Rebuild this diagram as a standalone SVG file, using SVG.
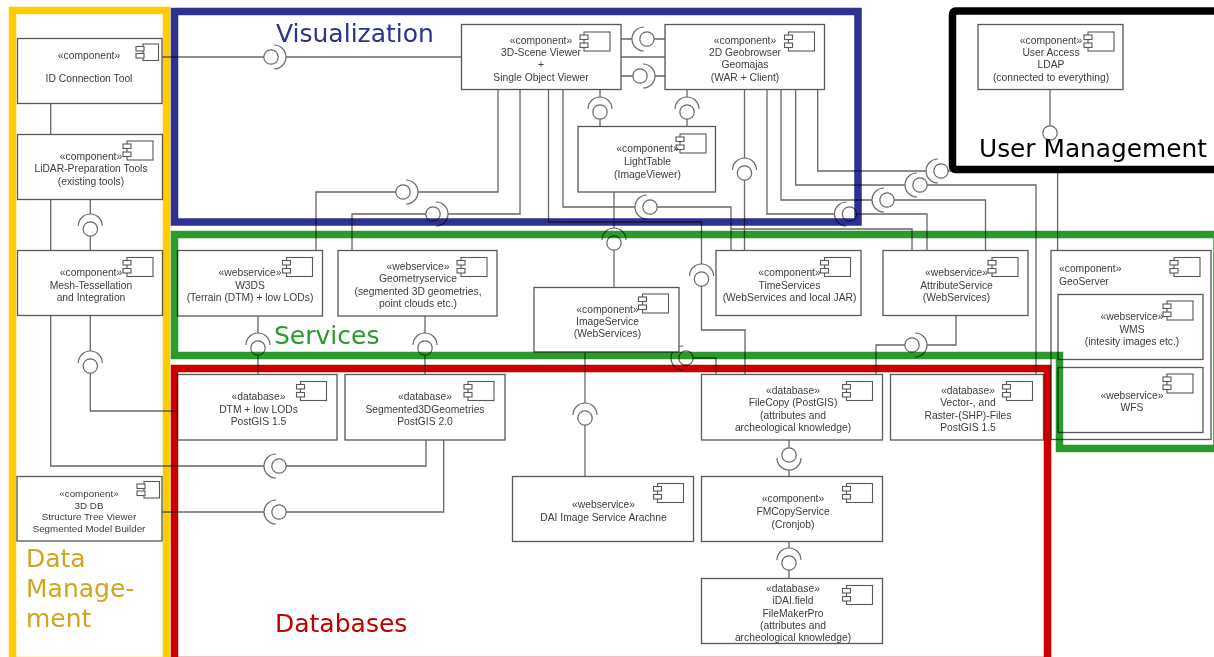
<svg xmlns="http://www.w3.org/2000/svg" width="1214" height="657" viewBox="0 0 1214 657">
<style>
text{font-family:"Liberation Sans",Arial,sans-serif}
.t{font-size:10.3px;fill:#3c3c3c;text-anchor:middle}
.s{font-size:9.8px}
.l{text-anchor:start}
.b{fill:#fff;stroke:#585858;stroke-width:1.3}
.i{fill:#fff;stroke:#585858;stroke-width:1.1}
.c{fill:none;stroke:#686868;stroke-width:1.3}
.f{fill:none;stroke-width:7.5;mix-blend-mode:multiply}
.h{font-family:"DejaVu Sans",Verdana,sans-serif;font-size:25px}
</style>
<defs>
<filter id="soft" x="-2%" y="-2%" width="104%" height="104%"><feGaussianBlur stdDeviation="0.4"/></filter>
<g id="icon"><rect class="i" x="0" y="0" width="26" height="19"/><rect class="i" x="-4" y="3" width="8" height="4.5"/><rect class="i" x="-4" y="11" width="8" height="4.5"/></g>
<g id="icons"><rect class="i" x="0" y="0" width="15.5" height="16.5"/><rect class="i" x="-7" y="2.5" width="8" height="4.5"/><rect class="i" x="-7" y="9.5" width="8" height="4.5"/></g>
<g id="ifc"><path d="M3,-12A12,12 0 0 1 3,12Z" fill="#fff" stroke="none"/><path d="M3,-12A12,12 0 0 1 3,12" fill="none" stroke="#686868" stroke-width="1.2"/><circle r="7.2" fill="#fff" stroke="#686868" stroke-width="1.2"/></g>
</defs>
<rect width="1214" height="657" fill="#fff"/>
<g id="connectors" filter="url(#soft)">
<path class="c" d="M162,57H461"/>
<path class="c" d="M621,39H665M621,57H665M621,76H665"/>
<path class="c" d="M600,89V126M687,89V126"/>
<path class="c" d="M498,89V192H316V250"/>
<path class="c" d="M520,89V214H352V250"/>
<path class="c" d="M548.5,89V222H701.5V330H745V374"/>
<path class="c" d="M563,89V207H731V250"/>
<path class="c" d="M731,229H912V250"/>
<path class="c" d="M614,192V287"/>
<path class="c" d="M744.5,89V250"/>
<path class="c" d="M767,89V214H927V250"/>
<path class="c" d="M781,89V200H985.5V250"/>
<path class="c" d="M795.7,89V185H1036V374"/>
<path class="c" d="M817.7,89V171H1057.6V250"/>
<path class="c" d="M1050,89V133"/>
<path class="c" d="M258,316V374M425,316V374"/>
<path class="c" d="M585,352V476"/>
<path class="c" d="M674,358H716V374"/>
<path class="c" d="M956,315V345H876V374"/>
<path class="c" d="M789,440V476M789,541V578"/>
<path class="c" d="M50.7,103V134M50.7,199V250M90.3,199V250"/>
<path class="c" d="M50.7,315V466H426V440"/>
<path class="c" d="M90.3,315V411H178"/>
<path class="c" d="M162,512H443.7V440"/>
<use href="#ifc" transform="translate(271,57)"/>
<use href="#ifc" transform="translate(647,39) rotate(180)"/>
<use href="#ifc" transform="translate(640,76)"/>
<use href="#ifc" transform="translate(600,112) rotate(-90)"/>
<use href="#ifc" transform="translate(687,112) rotate(-90)"/>
<use href="#ifc" transform="translate(403,192)"/>
<use href="#ifc" transform="translate(433,214)"/>
<use href="#ifc" transform="translate(650,207) rotate(180)"/>
<use href="#ifc" transform="translate(614,243) rotate(-90)"/>
<use href="#ifc" transform="translate(701.5,279) rotate(-90)"/>
<use href="#ifc" transform="translate(744.5,173) rotate(-90)"/>
<use href="#ifc" transform="translate(849.5,214) rotate(180)"/>
<use href="#ifc" transform="translate(887,200) rotate(180)"/>
<use href="#ifc" transform="translate(920,185) rotate(180)"/>
<use href="#ifc" transform="translate(941,171) rotate(180)"/>
<circle cx="1050" cy="133" r="7.2" fill="#fff" stroke="#686868" stroke-width="1.2"/>
<use href="#ifc" transform="translate(258,348) rotate(-90)"/>
<use href="#ifc" transform="translate(425,348) rotate(-90)"/>
<use href="#ifc" transform="translate(585,418) rotate(-90)"/>
<use href="#ifc" transform="translate(686,358) rotate(180)"/>
<use href="#ifc" transform="translate(912,345)"/>
<use href="#ifc" transform="translate(789,455) rotate(90)"/>
<use href="#ifc" transform="translate(789,563) rotate(-90)"/>
<use href="#ifc" transform="translate(90.3,229) rotate(-90)"/>
<use href="#ifc" transform="translate(90.3,366) rotate(-90)"/>
<use href="#ifc" transform="translate(279,466) rotate(180)"/>
<use href="#ifc" transform="translate(279,512) rotate(180)"/>
</g>
<g id="nodes" filter="url(#soft)">
<g id="n-idtool"><rect class="b" x="17.5" y="38.5" width="144.5" height="65"/><use href="#icons" x="143" y="44"/><text class="t"><tspan x="89" y="58.5">«component»</tspan><tspan x="89" y="81.5">ID Connection Tool</tspan></text></g>
<g id="n-lidar"><rect class="b" x="17.5" y="134.5" width="145" height="65"/><use href="#icon" x="127" y="141"/><text class="t"><tspan x="91" y="159.5">«component»</tspan><tspan x="91" y="171.5">LiDAR-Preparation Tools</tspan><tspan x="91" y="184.5">(existing tools)</tspan></text></g>
<g id="n-mesh"><rect class="b" x="17.5" y="250.5" width="145" height="65"/><use href="#icon" x="127" y="257.5"/><text class="t"><tspan x="91" y="275.5">«component»</tspan><tspan x="91" y="288.5">Mesh-Tessellation</tspan><tspan x="91" y="300.5">and Integration</tspan></text></g>
<g id="n-3ddb"><rect class="b" x="17" y="476.5" width="145" height="64.5"/><use href="#icons" x="144" y="481.5"/><text class="t s"><tspan x="89" y="496.5">«component»</tspan><tspan x="89" y="508.5">3D DB</tspan><tspan x="89" y="519.5">Structure Tree Viewer</tspan><tspan x="89" y="531.5">Segmented Model Builder</tspan></text></g>
<g id="n-scene"><rect class="b" x="461.5" y="24.5" width="159.5" height="65"/><use href="#icon" x="584" y="32"/><text class="t"><tspan x="541" y="43.5">«component»</tspan><tspan x="541" y="55.5">3D-Scene Viewer</tspan><tspan x="541" y="67.5">+</tspan><tspan x="541" y="80.5">Single Object Viewer</tspan></text></g>
<g id="n-geobrowser"><rect class="b" x="665" y="24.5" width="159.5" height="65"/><use href="#icon" x="788.5" y="32"/><text class="t"><tspan x="745" y="43.5">«component»</tspan><tspan x="745" y="55.5">2D Geobrowser</tspan><tspan x="745" y="67.5">Geomajas</tspan><tspan x="745" y="80.5">(WAR + Client)</tspan></text></g>
<g id="n-lighttable"><rect class="b" x="578" y="126.5" width="137.5" height="65.5"/><use href="#icon" x="680" y="134"/><text class="t"><tspan x="647.5" y="151.5">«component»</tspan><tspan x="647.5" y="164.5">LightTable</tspan><tspan x="647.5" y="177.5">(ImageViewer)</tspan></text></g>
<g id="n-user"><rect class="b" x="978" y="24.5" width="145" height="65"/><use href="#icon" x="1088" y="32"/><text class="t"><tspan x="1051" y="43.5">«component»</tspan><tspan x="1051" y="55.5">User Access</tspan><tspan x="1051" y="67.5">LDAP</tspan><tspan x="1051" y="80.5">(connected to everything)</tspan></text></g>
<g id="n-w3ds"><rect class="b" x="177.5" y="250.5" width="145" height="65.5"/><use href="#icon" x="286.5" y="257.5"/><text class="t"><tspan x="250" y="275.5">«webservice»</tspan><tspan x="250" y="288.5">W3DS</tspan><tspan x="250" y="300.5">(Terrain (DTM) + low LODs)</tspan></text></g>
<g id="n-geometry"><rect class="b" x="338" y="250.5" width="159" height="65.5"/><use href="#icon" x="461" y="257.5"/><text class="t"><tspan x="418" y="269.5">«webservice»</tspan><tspan x="418" y="281.5">Geometryservice</tspan><tspan x="418" y="294.5">(segmented 3D geometries,</tspan><tspan x="418" y="306.5">point clouds etc.)</tspan></text></g>
<g id="n-image"><rect class="b" x="534" y="287.5" width="145" height="64.5"/><use href="#icon" x="642.5" y="294"/><text class="t"><tspan x="607.5" y="312.5">«component»</tspan><tspan x="607.5" y="324.5">ImageService</tspan><tspan x="607.5" y="337">(WebServices)</tspan></text></g>
<g id="n-time"><rect class="b" x="716" y="250.5" width="145" height="65"/><use href="#icon" x="824.5" y="257.5"/><text class="t"><tspan x="789.5" y="275.5">«component»</tspan><tspan x="789.5" y="288.5">TimeServices</tspan><tspan x="789.5" y="300.5">(WebServices and local JAR)</tspan></text></g>
<g id="n-attribute"><rect class="b" x="883" y="250.5" width="145" height="65"/><use href="#icon" x="992" y="257.5"/><text class="t"><tspan x="956.5" y="275.5">«webservice»</tspan><tspan x="956.5" y="288.5">AttributeService</tspan><tspan x="956.5" y="300.5">(WebServices)</tspan></text></g>
<g id="n-geoserver"><rect class="b" x="1051" y="250.5" width="160" height="189"/><use href="#icon" x="1174" y="257.5"/><text class="t l"><tspan x="1059" y="271.5">«component»</tspan><tspan x="1059" y="284.5">GeoServer</tspan></text>
<g id="n-wms"><rect class="b" x="1058" y="294.5" width="145" height="65"/><use href="#icon" x="1167" y="301"/><text class="t"><tspan x="1132" y="319.5">«webservice»</tspan><tspan x="1132" y="332.5">WMS</tspan><tspan x="1132" y="344.5">(intesity images etc.)</tspan></text></g>
<g id="n-wfs"><rect class="b" x="1058" y="367.5" width="145" height="65"/><use href="#icon" x="1167" y="374"/><text class="t"><tspan x="1132" y="398.5">«webservice»</tspan><tspan x="1132" y="410.5">WFS</tspan></text></g></g>
<g id="n-dtm"><rect class="b" x="177.5" y="374.5" width="159.5" height="65.5"/><use href="#icon" x="300.5" y="381.5"/><text class="t"><tspan x="258.5" y="399.5">«database»</tspan><tspan x="258.5" y="412.5">DTM + low LODs</tspan><tspan x="258.5" y="424.5">PostGIS 1.5</tspan></text></g>
<g id="n-seg"><rect class="b" x="345" y="374.5" width="160" height="65.5"/><use href="#icon" x="468" y="381.5"/><text class="t"><tspan x="425" y="399.5">«database»</tspan><tspan x="425" y="412.5">Segmented3DGeometries</tspan><tspan x="425" y="424.5">PostGIS 2.0</tspan></text></g>
<g id="n-filecopy"><rect class="b" x="701.5" y="374.5" width="181" height="65.5"/><use href="#icon" x="846.5" y="381.5"/><text class="t"><tspan x="793" y="393.5">«database»</tspan><tspan x="793" y="405.5">FileCopy (PostGIS)</tspan><tspan x="793" y="418.5">(attributes and</tspan><tspan x="793" y="430.5">archeological knowledge)</tspan></text></g>
<g id="n-vector"><rect class="b" x="890.5" y="374.5" width="153" height="65.5"/><use href="#icon" x="1006.5" y="381.5"/><text class="t"><tspan x="968" y="393.5">«database»</tspan><tspan x="968" y="405.5">Vector-, and</tspan><tspan x="968" y="418.5">Raster-(SHP)-Files</tspan><tspan x="968" y="430.5">PostGIS 1.5</tspan></text></g>
<g id="n-dai"><rect class="b" x="512.5" y="476.5" width="181" height="65"/><use href="#icon" x="657.5" y="483.5"/><text class="t"><tspan x="603.5" y="507.5">«webservice»</tspan><tspan x="603.5" y="520.5">DAI Image Service Arachne</tspan></text></g>
<g id="n-fmcopy"><rect class="b" x="701.5" y="476.5" width="181" height="65"/><use href="#icon" x="846.5" y="483.5"/><text class="t"><tspan x="793" y="501.5">«component»</tspan><tspan x="793" y="514.5">FMCopyService</tspan><tspan x="793" y="527.5">(Cronjob)</tspan></text></g>
<g id="n-idai"><rect class="b" x="701.5" y="578.5" width="181" height="65"/><use href="#icon" x="846.5" y="585.5"/><text class="t"><tspan x="793" y="591.5">«database»</tspan><tspan x="793" y="603.5">iDAI.field</tspan><tspan x="793" y="616.5">FileMakerPro</tspan><tspan x="793" y="628.5">(attributes and</tspan><tspan x="793" y="641">archeological knowledge)</tspan></text></g>
</g>
<g id="frames">
<rect class="f" stroke="#ffcc00" x="12.5" y="10.5" width="154" height="650"/>
<rect class="f" stroke="#2e3192" x="174.5" y="11.5" width="683.5" height="210.5"/>
<path class="f" stroke="#2a9a2a" d="M1217,234.5H174.5V355.5H1059.5V448.5H1217Z"/>
<rect class="f" stroke="#cc0000" x="174.5" y="368.5" width="873" height="292"/>
<rect x="952.5" y="11" width="300" height="158.5" rx="3" fill="none" stroke="#000" stroke-width="7.5"/>
</g>
<g id="labels">
<text class="h" x="276" y="42" fill="#2e3192">Visualization</text>
<text class="h" x="979" y="157" fill="#000" textLength="228" lengthAdjust="spacingAndGlyphs">User Management</text>
<text class="h" x="274" y="344" fill="#2a9a2a">Services</text>
<text class="h" x="275" y="632" fill="#c00000">Databases</text>
<text class="h" x="26" y="567" fill="#d2a51c">Data</text>
<text class="h" x="26" y="597" fill="#d2a51c">Manage-</text>
<text class="h" x="26" y="627" fill="#d2a51c">ment</text>
</g>
</svg>
